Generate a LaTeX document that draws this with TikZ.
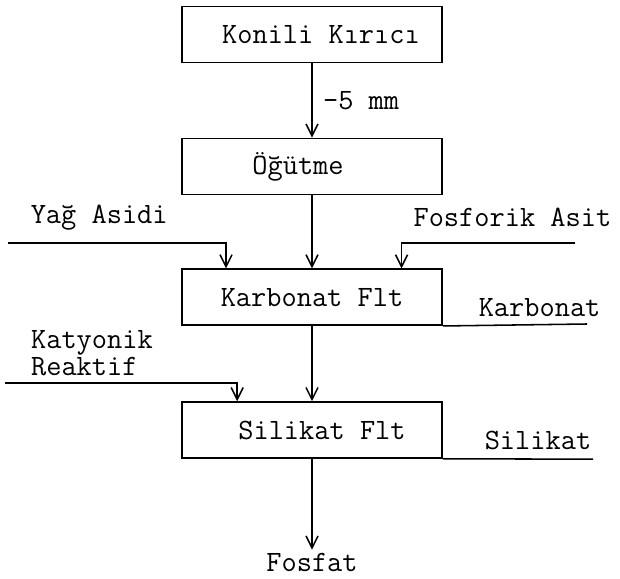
\documentclass[tikz,border=0pt]{standalone}
\usepackage{fontspec}
\usepackage{tikz}
\usetikzlibrary{arrows.meta,positioning}

\begin{document}
\begin{tikzpicture}[
    every node/.style={font=\ttfamily\fontsize{21}{19}\selectfont},
    box/.style={rectangle, draw, line width=1.1pt, minimum width=6.5cm,
                minimum height=1.4cm, inner sep=0pt},
    e/.style={line width=1.1pt, -{Straight Barb[length=3mm, width=3mm]}},
    ln/.style={line width=1.1pt},
    txt/.style={inner sep=2pt},
  ]
  \useasboundingbox (0,0) rectangle (15.5,-14.475);
  \node[box] (konili) at (7.80, -0.86) {\hspace*{0.45cm}Konili Kırıcı};
  \node[box] (ogutme) at (7.80, -4.16) {Öğütme\hspace*{0.7cm}};
  \node[box] (karbonat) at (7.80, -7.43) {Karbonat Flt};
  \node[box] (silikat) at (7.80, -10.75) {\hspace*{0.5cm}Silikat Flt};
  \node[txt] (fosfat) at (7.80, -14.05) {Fosfat};
  \node[txt] (yagl) at (2.48, -5.45) {Yağ Asidi};
  \node[txt] (fosl) at (12.81, -5.43) {Fosforik Asit};
  \node[txt, align=left, anchor=west] (katl) at (0.70, -8.83) {Katyonik\\Reaktif};
  \node[txt] (karbl) at (13.49, -7.69) {Karbonat};
  \node[txt] (silil) at (13.45, -11.01) {Silikat};
  \coordinate (yag) at (0.20, -6.08);
  \coordinate (fos) at (14.38, -6.08);
  \coordinate (kat) at (0.12, -9.58);
  \coordinate (karbout) at (14.68, -8.10);
  \coordinate (siliout) at (14.83, -11.48);
  % main line
  \draw[e] (konili) -- node[right, xshift=4pt] {-5 mm} (ogutme);
  \draw[e] (ogutme) -- (karbonat);
  \draw[e] (karbonat) -- (silikat);
  \draw[e] (silikat) -- (fosfat);
  % reagents
  \draw[e] (yag) -| ([xshift=1.12cm]karbonat.north west);
  \draw[e] (fos) -| ([xshift=-1.03cm]karbonat.north east);
  \draw[e] (kat) -| ([xshift=1.40cm]silikat.north west);
  % products
  \draw[ln] (karbonat.south east) -- (karbout);
  \draw[ln] (silikat.south east) -- (siliout);
\end{tikzpicture}
\end{document}
